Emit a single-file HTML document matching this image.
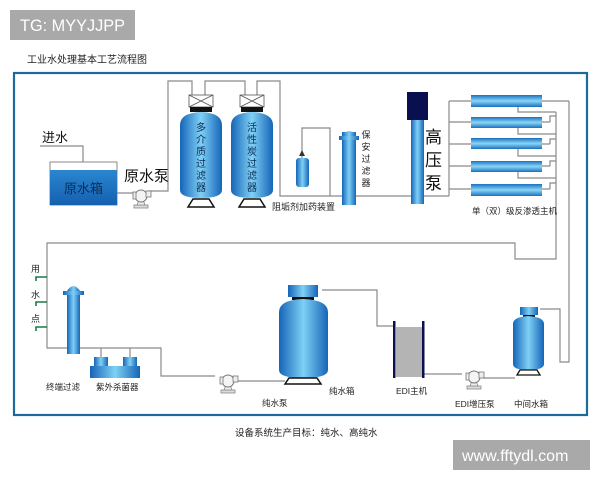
<!DOCTYPE html>
<html><head><meta charset="utf-8"><style>
html,body{margin:0;padding:0;background:#fff;width:600px;height:480px;overflow:hidden}
svg{display:block}
text{font-family:"Liberation Sans","Noto Sans CJK SC",sans-serif}
</style></head><body>
<svg width="600" height="480" viewBox="0 0 600 480" xmlns="http://www.w3.org/2000/svg">
<defs>
<linearGradient id="b" x1="0" x2="1" y1="0" y2="0">
<stop offset="0" stop-color="#1565b8"/><stop offset="0.5" stop-color="#7fd0f5"/><stop offset="1" stop-color="#1565b8"/></linearGradient>
<linearGradient id="m" x1="0" x2="0" y1="0" y2="1">
<stop offset="0" stop-color="#1a70c0"/><stop offset="0.5" stop-color="#8ad6f7"/><stop offset="1" stop-color="#1a70c0"/></linearGradient>
<linearGradient id="w" x1="0" x2="0" y1="0" y2="1">
<stop offset="0" stop-color="#2a86d0"/><stop offset="1" stop-color="#1560b0"/></linearGradient>
<g id="pump"><rect x="-8" y="9" width="14" height="3" fill="#ddd" stroke="#888" stroke-width="0.8"/><path d="M-5,9 L-3,4 L1,4 L3,9Z" fill="#eee" stroke="#888" stroke-width="0.8"/><circle cx="-1" cy="0" r="6" fill="#f4f4f4" stroke="#777" stroke-width="1"/><rect x="4" y="-5" width="5" height="6" fill="#eee" stroke="#777" stroke-width="0.8"/><rect x="-9" y="-4" width="3" height="7" fill="#eee" stroke="#777" stroke-width="0.8"/></g>
</defs>
<rect x="10" y="10" width="125" height="30" fill="#a9a9a9"/>
<text x="20" y="31" font-size="17" fill="#fff" textLength="105" lengthAdjust="spacingAndGlyphs">TG: MYYJJPP</text>
<text x="27" y="63" font-size="10" fill="#222">工业水处理基本工艺流程图</text>
<rect x="14" y="73" width="573" height="342" fill="none" stroke="#1c6b9c" stroke-width="2.2"/>
<g fill="none" stroke="#8a8a8a" stroke-width="1.2">
<path d="M40,146 H83 V162"/>
<path d="M117,193 H135"/>
<path d="M148,191 H168 V81 H192 V95"/>
<path d="M205,95 V81 H245 V95"/>
<path d="M257,95 V81 H280 V196 H449"/>
<path d="M302,158 V128 H330 V196"/>
<path d="M449,101 V196"/>
<path d="M449,101 H471 M449,122 H471 M449,144 H471 M449,166 H471 M449,189 H471"/>
<path d="M542,101 H569 M542,122 H550 M542,144 H550 M542,166 H550 M542,189 H550"/>
<path d="M518,107 V112 H556 M518,128 V134 H556 M518,149 V156 H556 M518,172 V178 H556 M550,122 V116 H556 M550,144 V139 H556 M550,166 V161 H556 M550,189 V183 H556"/>
<path d="M556,112 V259 H515 V243 H47 V348 H161 V376 H215"/>
<path d="M569,101 V362 H560 V309 H540"/>
<path d="M238,381 H285"/>
<path d="M322,290 H377 V326 H394"/>
<path d="M423,374 H462"/>
<path d="M483,378 H515"/>
<path d="M101,348 V357 M130,348 V357"/>
</g>
<rect x="50" y="162" width="67" height="43" fill="#fff" stroke="#888"/>
<rect x="50" y="170" width="67" height="35" fill="url(#w)"/>
<text x="64" y="193" font-size="13" fill="#0b2d55">原水箱</text>
<text x="42" y="142" font-size="13" fill="#111">进水</text>
<text x="124" y="181" font-size="15" fill="#111">原水泵</text>
<use href="#pump" x="142" y="196"/>
<g>
<rect x="189" y="95" width="24" height="12" fill="#fff" stroke="#555" stroke-width="0.8"/><path d="M189,95 L213,107 M213,95 L189,107" stroke="#555" stroke-width="0.8"/>
<rect x="190" y="107" width="22" height="5" fill="#111"/>
<path d="M180,125 Q180,113 201,112 Q222,113 222,125 L222,190 Q222,198 201,198 Q180,198 180,190Z" fill="url(#b)"/>
<path d="M188,207 L193,199 H209 L214,207Z" fill="#fff" stroke="#111" stroke-width="1.5"/>
<rect x="240" y="95" width="24" height="12" fill="#fff" stroke="#555" stroke-width="0.8"/><path d="M240,95 L264,107 M264,95 L240,107" stroke="#555" stroke-width="0.8"/>
<rect x="241" y="107" width="22" height="5" fill="#111"/>
<path d="M231,125 Q231,113 252,112 Q273,113 273,125 L273,190 Q273,198 252,198 Q231,198 231,190Z" fill="url(#b)"/>
<path d="M239,207 L244,199 H260 L265,207Z" fill="#fff" stroke="#111" stroke-width="1.5"/>
</g>
<g font-size="10" fill="#0b2d55" text-anchor="middle">
<text x="201" y="131">多</text><text x="201" y="143">介</text><text x="201" y="155">质</text><text x="201" y="167">过</text><text x="201" y="179">滤</text><text x="201" y="191">器</text>
<text x="252" y="131">活</text><text x="252" y="143">性</text><text x="252" y="155">炭</text><text x="252" y="167">过</text><text x="252" y="179">滤</text><text x="252" y="191">器</text>
</g>
<rect x="296" y="158" width="13" height="29" rx="3" fill="url(#b)"/>
<path d="M302,150 L299,156 H305Z" fill="#333"/>
<text x="272" y="210" font-size="9" fill="#222">阻垢剂加药装置</text>
<rect x="342" y="132" width="14" height="73" fill="url(#b)"/>
<rect x="339" y="136" width="20" height="4" fill="url(#b)"/>
<path d="M342,136 Q349,126 356,136Z" fill="url(#b)"/>
<g font-size="9" fill="#222" text-anchor="middle"><text x="366" y="138">保</text><text x="366" y="150">安</text><text x="366" y="162">过</text><text x="366" y="174">滤</text><text x="366" y="186">器</text></g>
<rect x="407" y="92" width="21" height="28" fill="#0a0f50"/>
<rect x="411" y="120" width="13" height="84" fill="url(#b)"/>
<g font-size="17" fill="#111"><text x="425" y="143">高</text><text x="425" y="166">压</text><text x="425" y="189">泵</text></g>
<g fill="url(#m)"><rect x="471" y="95" width="71" height="12"/><rect x="471" y="117" width="71" height="11"/><rect x="471" y="138" width="71" height="11"/><rect x="471" y="161" width="71" height="11"/><rect x="471" y="184" width="71" height="12"/></g>
<text x="472" y="214" font-size="8.5" fill="#222">单（双）级反渗透主机</text>
<g stroke="#1a7a4a" stroke-width="1.6" fill="none"><path d="M47,277 H36 V281 M47,302 H36 V306 M47,327 H36 V331"/></g>
<g font-size="9" fill="#222"><text x="31" y="272">用</text><text x="31" y="298">水</text><text x="31" y="322">点</text></g>
<rect x="67" y="292" width="13" height="62" fill="url(#b)"/>
<rect x="63" y="291" width="21" height="4" fill="url(#b)"/>
<path d="M67,291 Q73.5,281 80,291Z" fill="url(#b)"/>
<rect x="94" y="357" width="14" height="9" fill="url(#b)"/><rect x="123" y="357" width="14" height="9" fill="url(#b)"/>
<rect x="90" y="366" width="50" height="12" fill="url(#b)"/>
<g font-size="8.5" fill="#222"><text x="46" y="390">终端过滤</text><text x="96" y="390">紫外杀菌器</text>
<text x="262" y="406">纯水泵</text><text x="329" y="394">纯水箱</text><text x="396" y="394">EDI主机</text><text x="455" y="407">EDI增压泵</text><text x="514" y="407">中间水箱</text></g>
<use href="#pump" x="229" y="381"/>
<rect x="288" y="285" width="30" height="12" fill="url(#b)"/>
<rect x="292" y="297" width="22" height="3" fill="#111"/>
<path d="M279,312 Q279,300 303,299 Q328,300 328,312 L328,370 Q328,378 303,378 Q279,378 279,370Z" fill="url(#b)"/>
<path d="M285,384 L289,378 H317 L321,384Z" fill="#fff" stroke="#111" stroke-width="1.5"/>
<rect x="396" y="327" width="26" height="50" fill="#b4b4b4"/>
<rect x="393" y="321" width="2.5" height="57" fill="#0a0f50"/><rect x="422" y="321" width="2.5" height="57" fill="#0a0f50"/>
<use href="#pump" x="475" y="377"/>
<rect x="520" y="307" width="18" height="8" fill="url(#b)"/>
<rect x="523" y="315" width="12" height="2" fill="#111"/>
<path d="M513,324 Q513,317 528,316 Q544,317 544,324 L544,364 Q544,370 528,370 Q513,370 513,364Z" fill="url(#b)"/>
<path d="M517,375 L520,370 H537 L540,375Z" fill="#fff" stroke="#111" stroke-width="1.3"/>
<text x="235" y="436" font-size="9.5" fill="#222">设备系统生产目标：纯水、高纯水</text>
<rect x="453" y="440" width="137" height="30" fill="#a9a9a9"/>
<text x="462" y="461" font-size="16" fill="#fff">www.fftydl.com</text>
</svg>
</body></html>
